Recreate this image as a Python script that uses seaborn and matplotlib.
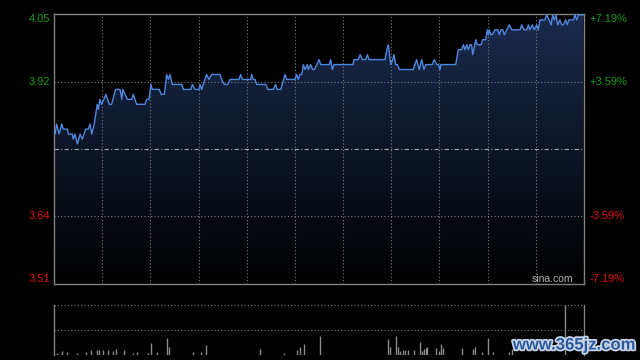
import numpy as np
import pandas as pd
import matplotlib
matplotlib.use("Agg")
import matplotlib.pyplot as plt
import matplotlib.transforms as mtransforms
from matplotlib import patheffects as pe
from matplotlib.colors import LinearSegmentedColormap
import seaborn as sns

# ---------------- data ----------------
times = [0.5, 1.2, 2.3, 3.5, 4.2, 6.0, 6.5, 8.3, 8.7, 9.5, 10.6, 11.8, 12.8, 14.4, 15.5,
         16.3, 17.1, 18.2, 19.6, 20.1, 20.8, 21.6, 22.6, 23.5, 25.0, 26.1, 27.9, 29.9, 30.7,
         31.1, 33.2, 35.2, 35.9, 37.4, 41.2, 42.0, 43.0, 43.9, 44.5, 47.7, 48.5, 50.0, 51.0,
         51.8, 52.5, 53.6, 57.8, 58.6, 62.0, 62.6, 63.8, 65.7, 66.1, 66.9, 67.6, 69.1, 70.2,
         71.4, 75.2, 75.9, 77.1, 78.7, 79.7, 83.8, 84.5, 85.3, 89.1, 89.5, 90.2, 91.0, 91.8,
         96.0, 96.8, 99.3, 100.4, 101.0, 102.7, 104.6, 105.4, 109.1, 109.9, 110.6, 111.4,
         112.2, 112.9, 113.7, 114.7, 115.2, 116.2, 117.1, 117.9, 119.0, 120.0, 120.8, 124.7,
         125.3, 126.0, 126.8, 135.3, 136.0, 137.8, 138.6, 139.6, 141.1, 141.9, 142.6, 149.9,
         150.7, 151.4, 152.5, 153.4, 154.0, 154.7, 155.5, 156.4, 162.7, 164.2, 165.4, 166.5,
         167.5, 168.4, 171.3, 172.2, 173.3, 174.0, 174.8, 175.2, 181.9, 183.1, 184.6, 185.4,
         186.1, 186.9, 187.6, 188.4, 189.1, 189.6, 191.0, 191.7, 193.4, 194.1, 195.5, 196.2,
         196.7, 197.1, 197.8, 198.5, 199.7, 200.9, 201.6, 202.4, 203.2, 203.9, 205.0, 206.2,
         207.3, 211.0, 211.8, 212.8, 214.1, 214.8, 215.5, 216.6, 217.5, 218.6, 219.3, 220.1,
         222.3, 223.1, 224.2, 225.1, 225.8, 226.6, 227.3, 228.1, 229.1, 229.9, 230.6, 231.7,
         232.4, 233.2, 235.2, 235.9, 236.7, 237.4, 239.7]
prices = [3.81, 3.83, 3.81, 3.83, 3.82, 3.82, 3.81, 3.81, 3.80, 3.81, 3.79, 3.81, 3.80, 3.82, 3.82,
          3.83, 3.81, 3.83, 3.87, 3.86, 3.88, 3.87, 3.88, 3.89, 3.87, 3.87, 3.90, 3.90, 3.88,
          3.90, 3.88, 3.88, 3.89, 3.87, 3.87, 3.88, 3.88, 3.91, 3.90, 3.90, 3.89, 3.89, 3.93,
          3.92, 3.93, 3.91, 3.91, 3.90, 3.90, 3.91, 3.90, 3.90, 3.91, 3.90, 3.91, 3.93, 3.92,
          3.93, 3.93, 3.92, 3.91, 3.91, 3.92, 3.92, 3.93, 3.92, 3.92, 3.93, 3.92, 3.92, 3.91,
          3.91, 3.90, 3.90, 3.91, 3.90, 3.90, 3.93, 3.92, 3.92, 3.93, 3.92, 3.93,
          3.93, 3.95, 3.94, 3.95, 3.94, 3.95, 3.94, 3.94, 3.95, 3.96, 3.95, 3.95,
          3.96, 3.94, 3.95, 3.95, 3.96, 3.96, 3.97, 3.96, 3.96, 3.97, 3.96, 3.96,
          3.98, 3.99, 3.95, 3.96, 3.97, 3.95, 3.95, 3.94, 3.94, 3.96, 3.94, 3.96,
          3.94, 3.95, 3.95, 3.96, 3.95, 3.95, 3.94, 3.95, 3.95, 3.98, 3.98, 3.99,
          3.98, 3.99, 3.98, 3.99, 3.99, 3.97, 4.00, 3.99, 3.99, 4.00, 4.00, 4.02,
          4.01, 4.02, 4.01, 4.01, 4.02, 4.02, 4.01, 4.02, 4.02, 4.01, 4.02, 4.03,
          4.02, 4.02, 4.03, 4.02, 4.02, 4.03, 4.02, 4.03, 4.02, 4.03, 4.02, 4.04,
          4.04, 4.05, 4.04, 4.03, 4.05, 4.04, 4.05, 4.03, 4.04, 4.03, 4.03, 4.04,
          4.03, 4.04, 4.04, 4.05, 4.04, 4.05, 4.05]

vol_times = [1.5, 3.8, 6.0, 10.3, 14.6, 16.9, 19.6, 20.4, 22.2, 24.6, 26.9, 28.2, 31.7, 35.6,
             37.7, 42.7, 44.1, 46.5, 51.3, 52.2, 63.1, 66.7, 69.0, 93.3, 104.1, 110.2, 111.5,
             113.3, 120.6, 151.2, 152.1, 154.7, 155.9, 156.7, 158.0, 158.9, 160.4, 163.1,
             165.7, 166.6, 167.4, 168.3, 169.0, 173.1, 174.3, 175.4, 176.3, 184.6, 189.9,
             190.6, 193.9, 196.7, 199.0, 206.0, 207.5, 231.5]
vol_values = [2, 4, 3, 2, 3, 5, 5, 5, 5, 5, 4, 6, 5, 2,
              3, 2, 12, 3, 17, 8, 3, 3, 10, 6, 2, 5, 8,
              11, 19, 16, 8, 19, 8, 4, 5, 5, 5, 5,
              13, 4, 6, 7, 8, 7, 4, 11, 7, 7, 6,
              8, 3, 17, 3, 3, 6, 50]

base_price = 3.78
pct_levels = [7.19, 3.59, -3.59, -7.19]
left_labels = ["4.05", "3.92", "3.64", "3.51"]
right_labels = ["+7.19%", "+3.59%", "-3.59%", "-7.19%"]
source_text = "sina.com"
watermark = "www.365jz.com"

# ---------------- style ----------------
sns.set_theme(style="dark")
plt.rcParams.update({
    "figure.facecolor": "black",
    "axes.facecolor": "black",
    "savefig.facecolor": "black",
})
plt.rcParams["font.family"] = ["Liberation Sans", "DejaVu Sans"]

GREEN = "#14a014"
RED = "#e01010"
GRID = "#7c7c7c"
SPINE = "#808080"
LINE = "#4f86e0"

fig = plt.figure(figsize=(6.4, 3.6), dpi=100)
ax = fig.add_axes([54 / 640, 1 - 284 / 360, 530 / 640, 270 / 360])
axv = fig.add_axes([54 / 640, 1 - 355 / 360, 530 / 640, 50 / 360])

ymin = base_price * (1 - 0.0719)
ymax = base_price * (1 + 0.0719)
ax.set_xlim(0, 240)
ax.set_ylim(ymin, ymax)

df = pd.DataFrame({"t": times, "p": prices})

# gradient fill under the price line
poly = ax.fill_between(df["t"], df["p"], ymin, facecolor="none", edgecolor="none")
cmap = LinearSegmentedColormap.from_list("g", ["#000000", "#1a2b4e"])
grad = np.linspace(1, 0, 256).reshape(-1, 1)
img = ax.imshow(grad, extent=[0, 240, ymin, ymax], aspect="auto", cmap=cmap,
                vmin=0, vmax=1, zorder=1, origin="upper")
img.set_clip_path(poly.get_paths()[0], transform=ax.transData)

# grid lines
for k in range(1, 11):
    ax.axvline(240 * k / 11, color=GRID, lw=0.8, ls=(0, (1, 2)), zorder=2)
for pct in [3.59, -3.59]:
    ax.axhline(base_price * (1 + pct / 100), color=GRID, lw=0.8, ls=(0, (1, 2)), zorder=2)
ax.axhline(base_price, color="#a0a0a0", lw=0.8, ls=(0, (4, 2, 1, 2)), zorder=2)

sns.lineplot(data=df, x="t", y="p", ax=ax, color=LINE, lw=1.0, zorder=3, estimator=None,
             sort=False)

ax.set_xticks([])
ax.set_yticks([])
ax.set_xlabel("")
ax.set_ylabel("")
ax.grid(False)
for s in ax.spines.values():
    s.set_visible(True)
    s.set_color(SPINE)
    s.set_linewidth(1.0)

trans_l = mtransforms.blended_transform_factory(ax.transAxes, ax.transData)
for pct, lab_l, lab_r in zip(pct_levels, left_labels, right_labels):
    y = base_price * (1 + pct / 100)
    col = GREEN if pct > 0 else RED
    va = "center"
    dy = 0
    if pct == pct_levels[0]:
        y = ymax
        va = "top"
    elif pct == pct_levels[-1]:
        y = ymin
        va = "bottom"
    ax.text(-0.008, y, lab_l, transform=trans_l, ha="right", va=va, color=col, fontsize=8)
    ax.text(1.011, y, lab_r, transform=trans_l, ha="left", va=va, color=col, fontsize=8)

ax.text(0.979, 0.018, source_text, transform=ax.transAxes, ha="right", va="center",
        color="#b4b4b4", fontsize=7.5)

# ---------------- volume panel ----------------
axv.set_xlim(0, 240)
axv.set_ylim(0, 50)
axv.vlines(vol_times, 0, vol_values, color="#8a8a8a", lw=1.0)
axv.axhline(50, color=GRID, lw=0.8, ls=(0, (1, 2)))
axv.axhline(25, color=GRID, lw=0.8, ls=(0, (1, 2)))
axv.axhline(0.3, color=GRID, lw=0.8, ls=(0, (1, 2)))
axv.set_xticks([])
axv.set_yticks([])
axv.grid(False)
for name, s in axv.spines.items():
    if name in ("left", "right"):
        s.set_visible(True)
        s.set_color(SPINE)
        s.set_linewidth(1.0)
    else:
        s.set_visible(False)

fig.text(0.992, 1 - 345 / 360, watermark, ha="right", va="center", fontsize=12,
         fontweight="bold", color="#2d5a9c",
         path_effects=[pe.withStroke(linewidth=2.5, foreground="#c9d6ea")])

fig.savefig("out.png", dpi=100, facecolor="black")
